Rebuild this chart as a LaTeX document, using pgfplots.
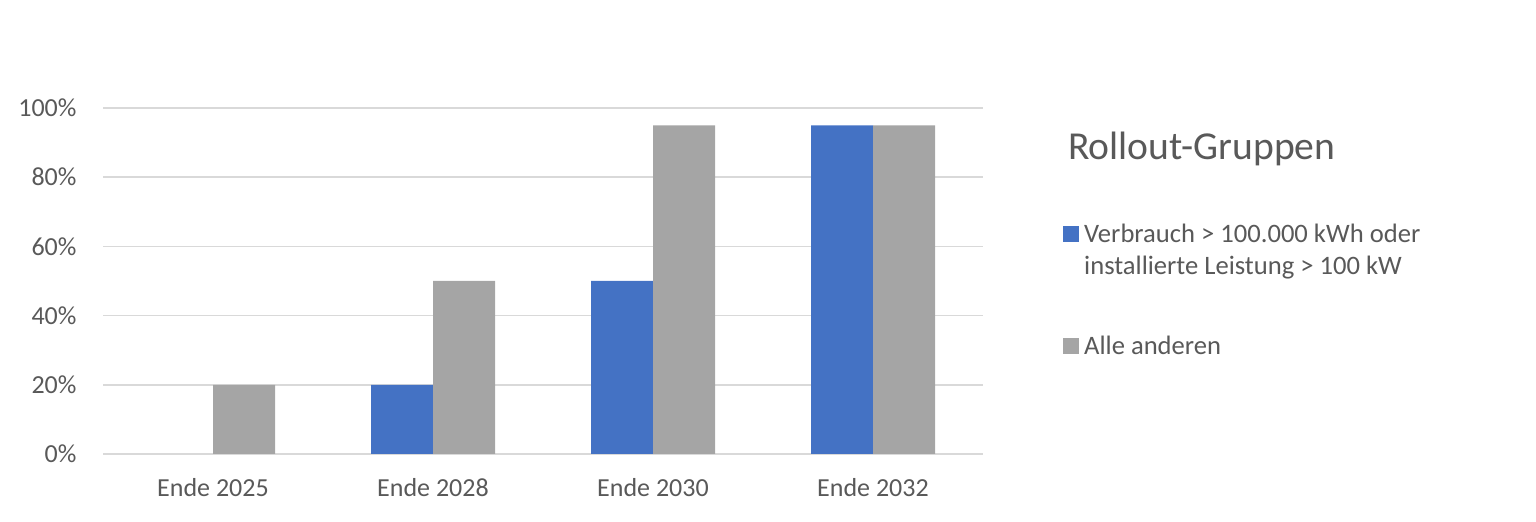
\documentclass[border=0pt]{standalone}
\usepackage{pgfplots}
\pgfplotsset{compat=1.18}
\usepackage{fontspec}
\setmainfont{Carlito}
\definecolor{txt}{HTML}{595959}
\definecolor{gridc}{HTML}{D9D9D9}
\definecolor{blueS}{HTML}{4472C4}
\definecolor{greyS}{HTML}{A5A5A5}
\begin{document}
\begin{tikzpicture}[x=1bp,y=1bp]
\path (0,0) rectangle (1536,522);
\begin{axis}[
  at={(103bp,68bp)}, anchor=south west,
  scale only axis, width=880bp, height=346bp,
  ybar=0pt, bar width=62bp,
  xmin=-0.5, xmax=3.5, ymin=0, ymax=100,
  xtick={0,1,2,3},
  xticklabels={Ende 2025,Ende 2028,Ende 2030,Ende 2032},
  ytick={0,20,40,60,80,100},
  yticklabel={\pgfmathprintnumber{\tick}\%},
  /pgf/number format/assume math mode=true,
  ymajorgrids, grid style={gridc, line width=1.5bp},
  axis line style={draw=none},
  major tick length=0pt,
  ticklabel style={font=\fontsize{26bp}{31bp}\selectfont, text=txt},
  yticklabel style={xshift=-23bp},
  xticklabel style={yshift=-21bp},
  legend style={draw=none, at={(1.0875,0.676)}, anchor=north west,
    font=\fontsize{26.6bp}{32bp}\selectfont, text=txt,
    row sep=56bp, nodes={align=left},
    /tikz/every odd column/.append style={column sep=3bp}},
  legend cell align=left,
]
\addplot[fill=blueS, draw=none,
  legend image code/.code={\path (0bp,-24bp) (16bp,24bp); \fill[blueS] (0bp,8bp) rectangle (16bp,24bp);}]
  coordinates {(1,20) (2,50) (3,95)};
\addlegendentry{Verbrauch > 100.000 kWh oder\\installierte Leistung > 100 kW}
\addplot[fill=greyS, draw=none,
  legend image code/.code={\fill[greyS] (0bp,-8bp) rectangle (16bp,8bp);}]
  coordinates {(0,20) (1,50) (2,95) (3,95)};
\addlegendentry{Alle anderen}
\end{axis}
\node[anchor=base west, text=txt, font=\fontsize{39.6bp}{46bp}\selectfont, inner sep=0pt] at (1068,522-160) {Rollout-Gruppen};
\end{tikzpicture}
\end{document}
